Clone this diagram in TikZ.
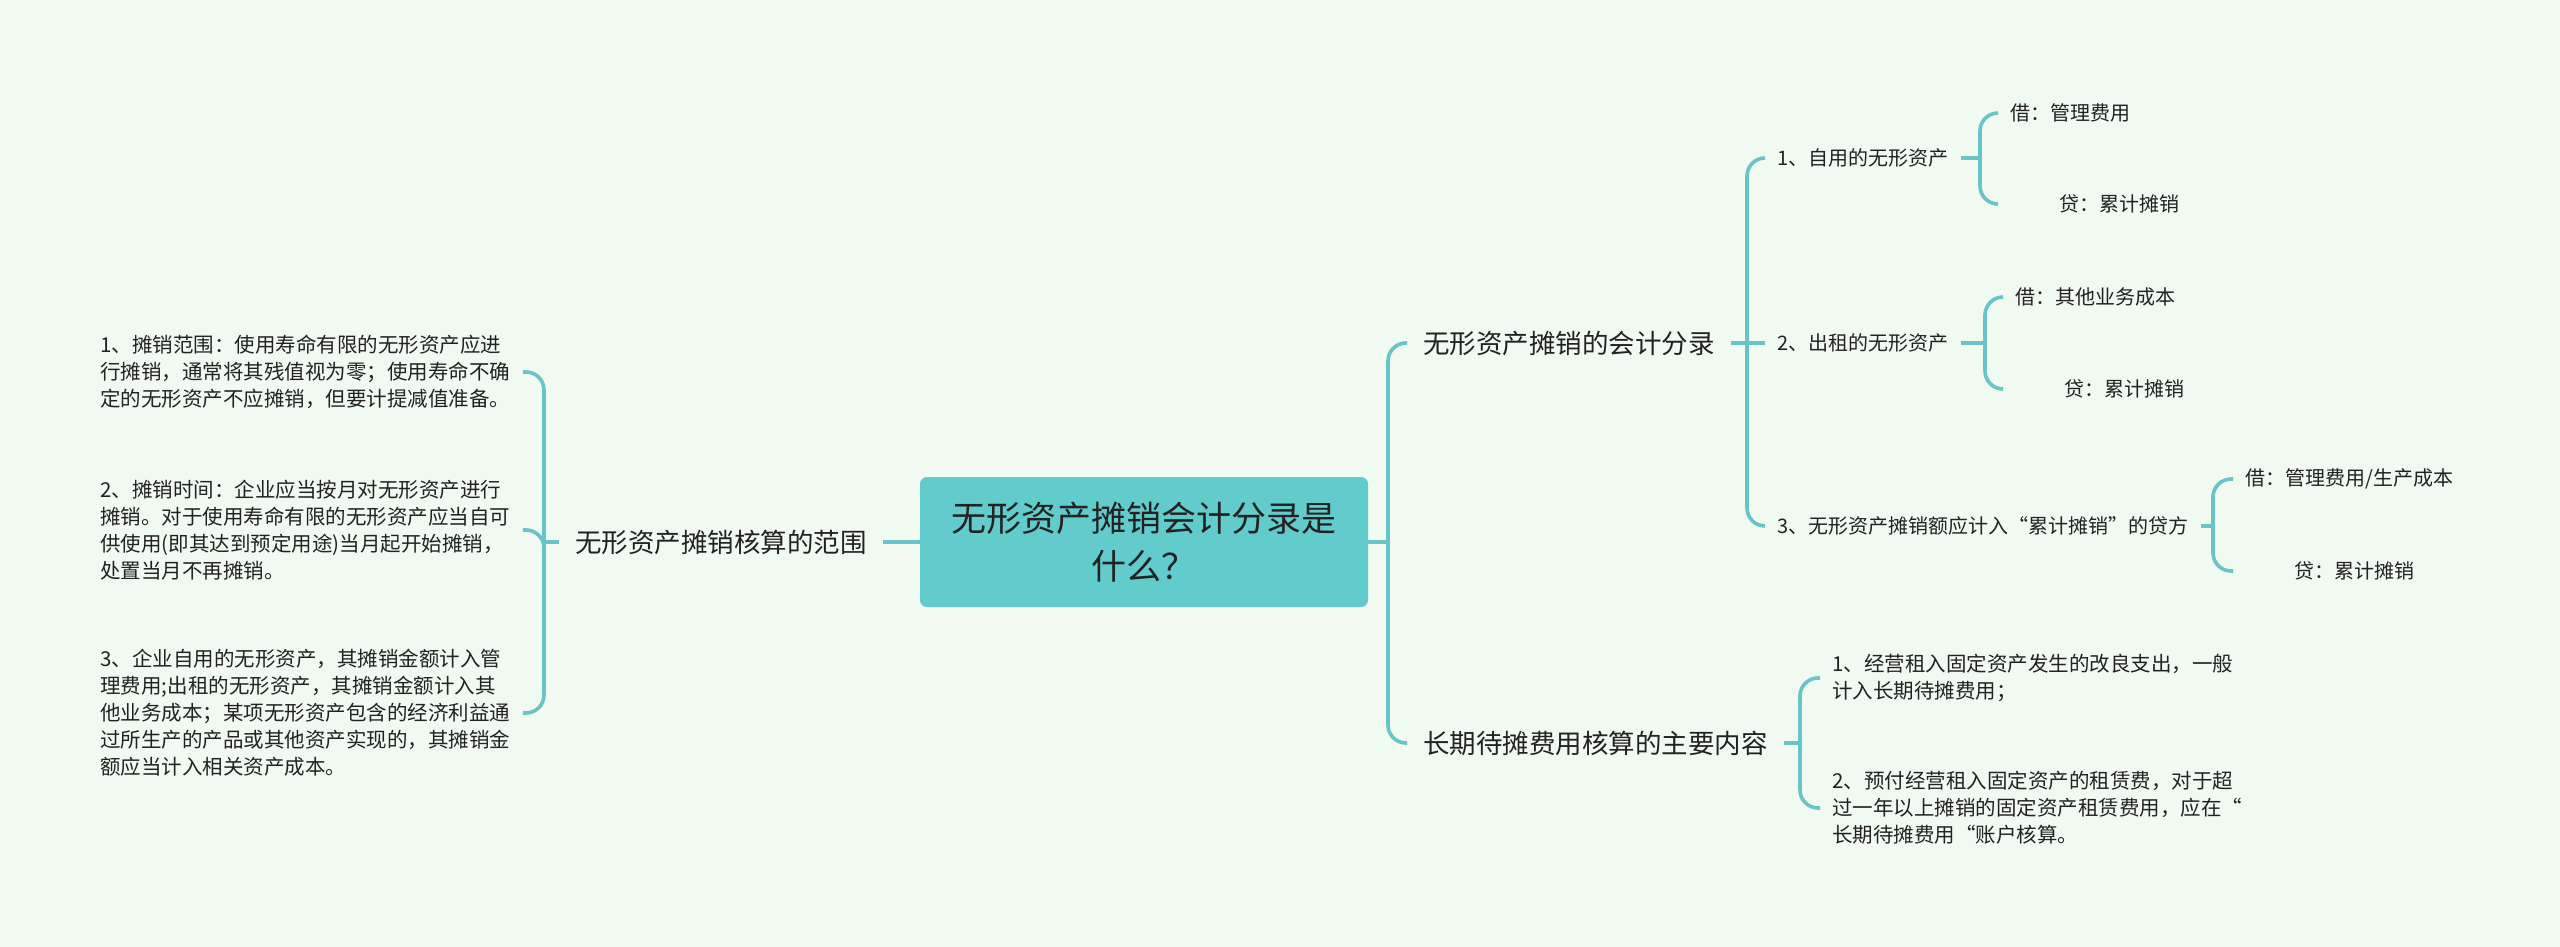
\documentclass[tikz,border=0pt]{standalone}
\usepackage{fontspec}
\setmainfont{Noto Sans CJK SC}
\usepackage{tikz}
\usetikzlibrary{positioning,calc}
\definecolor{mint}{RGB}{240,250,240}
\definecolor{linkteal}{RGB}{104,196,202}
\definecolor{rootteal}{RGB}{98,203,203}
\definecolor{inkdark}{RGB}{34,34,34}
\newcommand{\crindent}{\hspace*{24.5pt}}

\begin{document}
\begin{tikzpicture}[x=0.5pt,y=-0.5pt,
  every node/.style={text=inkdark},
  root/.style={fill=rootteal,rounded corners=3.5pt,minimum width=224pt,minimum height=65pt,align=center,font=\fontsize{17.5pt}{24pt}\selectfont},
  topic/.style={inner xsep=8pt,font=\fontsize{13.25pt}{16pt}\selectfont},
  sub/.style={inner xsep=6pt,font=\fontsize{10pt}{13.5pt}\selectfont},
  leaf/.style={inner xsep=6pt,align=left,font=\fontsize{10.25pt}{13.5pt}\selectfont},
  link/.style={draw=linkteal,line width=1.8pt,rounded corners=9pt}]
  \fill[mint] (0,0) rectangle (2560,947);
  % centre
  \node[root] (root) at (1144,542) {无形资产摊销会计分录是\\什么？};
  % left branch
  \node[topic] (scope) at (721,542) {无形资产摊销核算的范围};
  \node[leaf,anchor=west] (scopeA) at (88,372) {1、摊销范围：使用寿命有限的无形资产应进\\行摊销，通常将其残值视为零；使用寿命不确\\定的无形资产不应摊销，但要计提减值准备。};
  \node[leaf,anchor=west] (scopeB) at (88,530) {2、摊销时间：企业应当按月对无形资产进行\\摊销。对于使用寿命有限的无形资产应当自可\\供使用(即其达到预定用途)当月起开始摊销，\\处置当月不再摊销。};
  \node[leaf,anchor=west] (scopeC) at (88,713) {3、企业自用的无形资产，其摊销金额计入管\\理费用;出租的无形资产，其摊销金额计入其\\他业务成本；某项无形资产包含的经济利益通\\过所生产的产品或其他资产实现的，其摊销金\\额应当计入相关资产成本。};
  \coordinate (jL) at (544,542);
  \draw[link] (root.west) -- (scope.east);
  \draw[link] (scope.west) -- (jL);
  \draw[link] (jL) |- (scopeA.east);
  \draw[link] (jL) |- (scopeB.east);
  \draw[link] (jL) |- (scopeC.east);
  % right branch
  \node[topic,anchor=west] (entry) at (1407,343) {无形资产摊销的会计分录};
  \node[topic,anchor=west] (defer) at (1407,743) {长期待摊费用核算的主要内容};
  \coordinate (jR) at (1388,542);
  \draw[link] (root.east) -- (jR);
  \draw[link] (jR) |- (entry.west);
  \draw[link] (jR) |- (defer.west);
  % accounting entries
  \node[sub,anchor=west] (own) at (1765,158) {1、自用的无形资产};
  \node[sub,anchor=west] (rent) at (1765,343) {2、出租的无形资产};
  \node[sub,anchor=west] (credit) at (1765,526) {3、无形资产摊销额应计入“累计摊销”的贷方};
  \coordinate (jE) at (1747,343);
  \draw[link] (entry.east) -- (jE);
  \draw[link] (jE) |- (own.west);
  \draw[link] (jE) -- (rent.west);
  \draw[link] (jE) |- (credit.west);
  \node[sub,anchor=west] (ownDr) at (1998,113) {借：管理费用};
  \node[sub,anchor=west] (ownCr) at (1998,204) {\crindent 贷：累计摊销};
  \node[sub,anchor=west] (rentDr) at (2003,297) {借：其他业务成本};
  \node[sub,anchor=west] (rentCr) at (2003,389) {\crindent 贷：累计摊销};
  \node[sub,anchor=west] (creditDr) at (2233,479) {借：管理费用/生产成本};
  \node[sub,anchor=west] (creditCr) at (2233,571) {\crindent 贷：累计摊销};
  \coordinate (jO) at (1980,158);
  \coordinate (jN) at (1985,343);
  \coordinate (jC) at (2213,526);
  \draw[link] (own.east) -- (jO);
  \draw[link] (jO) |- (ownDr.west);
  \draw[link] (jO) |- (ownCr.west);
  \draw[link] (rent.east) -- (jN);
  \draw[link] (jN) |- (rentDr.west);
  \draw[link] (jN) |- (rentCr.west);
  \draw[link] (credit.east) -- (jC);
  \draw[link] (jC) |- (creditDr.west);
  \draw[link] (jC) |- (creditCr.west);
  % deferred expenses
  \node[leaf,anchor=west] (deferA) at (1820,678) {1、经营租入固定资产发生的改良支出，一般\\计入长期待摊费用；};
  \node[leaf,anchor=west] (deferB) at (1820,808) {2、预付经营租入固定资产的租赁费，对于超\\过一年以上摊销的固定资产租赁费用，应在“\\长期待摊费用“账户核算。};
  \coordinate (jD) at (1800,743);
  \draw[link] (defer.east) -- (jD);
  \draw[link] (jD) |- (deferA.west);
  \draw[link] (jD) |- (deferB.west);
\end{tikzpicture}
\end{document}
